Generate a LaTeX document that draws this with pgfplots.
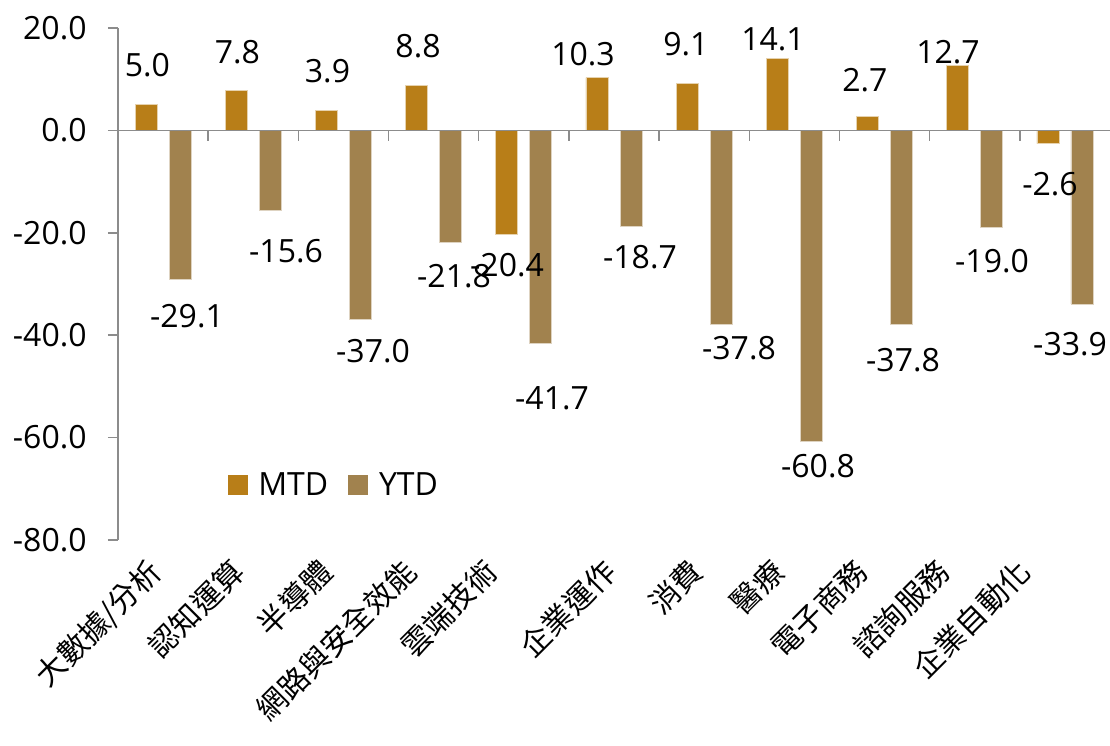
\documentclass[border=0pt]{standalone}
\usepackage{fontspec}
\setmainfont{Open Sans}
\newfontfamily\cjk{Noto Sans CJK TC}
\usepackage{pgfplots}
\pgfplotsset{compat=1.18}
\usepackage{pgfplotstable}
\definecolor{mtd}{HTML}{B87E18}
\definecolor{ytd}{HTML}{A1824E}
\definecolor{axgray}{HTML}{8C8C8C}

\pgfplotstableread{
x y
0 5.0
1 7.8
2 3.9
3 8.8
4 -20.4
5 10.3
6 9.1
7 14.1
8 2.7
9 12.7
10 -2.6
}\mtdtab

\pgfplotstableread{
x y
0 -29.1
1 -15.6
2 -37.0
3 -21.8
4 -41.7
5 -18.7
6 -37.8
7 -60.8
8 -37.8
9 -19.0
10 -33.9
}\ytdtab

\pgfplotstableread{
x y lab
-0.173 10.43 5.0
0.825 13.16 7.8
1.823 9.26 3.9
2.827 14.14 8.8
3.814 -28.63 -20.4
4.656 12.77 10.3
5.798 14.53 9.1
6.763 15.51 14.1
7.783 7.50 2.7
8.704 13.16 12.7
9.835 -12.62 -2.6
}\mtdlab

\pgfplotstableread{
x y lab
0.265 -38.59 -29.1
1.363 -25.90 -15.6
2.328 -45.43 -37.0
3.226 -30.59 -21.8
4.313 -54.61 -41.7
5.288 -27.07 -18.7
6.386 -44.84 -37.8
7.262 -67.89 -60.8
8.205 -47.19 -37.8
9.192 -27.66 -19.0
10.057 -43.87 -33.9
}\ytdlab

\begin{document}
\begin{tikzpicture}
\begin{axis}[
  scale only axis, width=496pt, height=256pt,
  xmin=-0.5, xmax=10.5, ymin=-80, ymax=20,
  axis x line*=bottom, axis y line*=left,
  x axis line style={draw=none},
  y axis line style={draw=axgray, line width=0.75pt},
  ytick={-80,-60,-40,-20,0,20},
  ytick style={draw=axgray, line width=0.75pt},
  tick align=outside, major tick length=5pt,
  yticklabel style={font=\fontsize{16}{18}\selectfont, anchor=east, inner sep=0pt, xshift=-10.5pt,
    /pgf/number format/fixed, /pgf/number format/fixed zerofill,
    /pgf/number format/precision=1, /pgf/number format/assume math mode=true},
  xtick={-0.195,0.726,1.702,2.633,3.531,4.851,5.805,6.714,7.634,8.544,9.442},
  xticklabels={大數據/分析,認知運算,半導體,網路與安全效能,雲端技術,企業運作,消費,醫療,電子商務,諮詢服務,企業自動化},
  xtick style={draw=none},
  xticklabel shift=3pt,
  xticklabel style={font=\cjk\fontsize{15}{17}\selectfont, rotate=45, anchor=north east, inner sep=0pt},
  clip=false,
  legend columns=2,
  legend style={at={(0.11,0.107)}, anchor=west, draw=none, fill=none, inner sep=0pt,
    font=\fontsize{16}{18}\selectfont, nodes={inner sep=0pt},
    /tikz/every odd column/.append style={column sep=5.5pt},
    /tikz/every even column/.append style={column sep=10pt}},
]
\addplot[ybar, bar width=11pt, bar shift=-8.5pt, fill=mtd, draw=mtd!35!white, line width=0.4pt,
  legend image code/.code={\fill[mtd] (0pt,-4.75pt) rectangle (9.5pt,4.75pt);}]
  table[x=x,y=y]{\mtdtab};
\addlegendentry{MTD}
\addplot[ybar, bar width=11pt, bar shift=8.5pt, fill=ytd, draw=ytd!35!white, line width=0.4pt,
  legend image code/.code={\fill[ytd] (0pt,-4.75pt) rectangle (9.5pt,4.75pt);}]
  table[x=x,y=y]{\ytdtab};
\addlegendentry{YTD}
\draw[axgray, line width=0.75pt] (axis cs:-0.5,0) -- (axis cs:10.5,0);
\pgfplotsinvokeforeach{0.5,1.5,...,9.5}{
  \draw[axgray, line width=0.75pt] (axis cs:#1,0) -- ([yshift=-5.5pt]axis cs:#1,0);
}
\addplot[forget plot, draw=none, mark=none, nodes near coords, point meta=explicit symbolic,
  nodes near coords align={anchor=base},
  every node near coord/.append style={anchor=base, inner sep=0pt, font=\fontsize{16}{18}\selectfont, text=black}]
  table[x=x,y=y,meta=lab]{\mtdlab};
\addplot[forget plot, draw=none, mark=none, nodes near coords, point meta=explicit symbolic,
  nodes near coords align={anchor=base},
  every node near coord/.append style={anchor=base, inner sep=0pt, font=\fontsize{16}{18}\selectfont, text=black}]
  table[x=x,y=y,meta=lab]{\ytdlab};
\coordinate (TL) at (rel axis cs:0,1);
\coordinate (BR) at (rel axis cs:1,0);
\end{axis}
\pgfresetboundingbox
\path[use as bounding box] ([xshift=-59pt,yshift=14pt]TL) rectangle ([yshift=-103pt]BR);
\end{tikzpicture}
\end{document}
